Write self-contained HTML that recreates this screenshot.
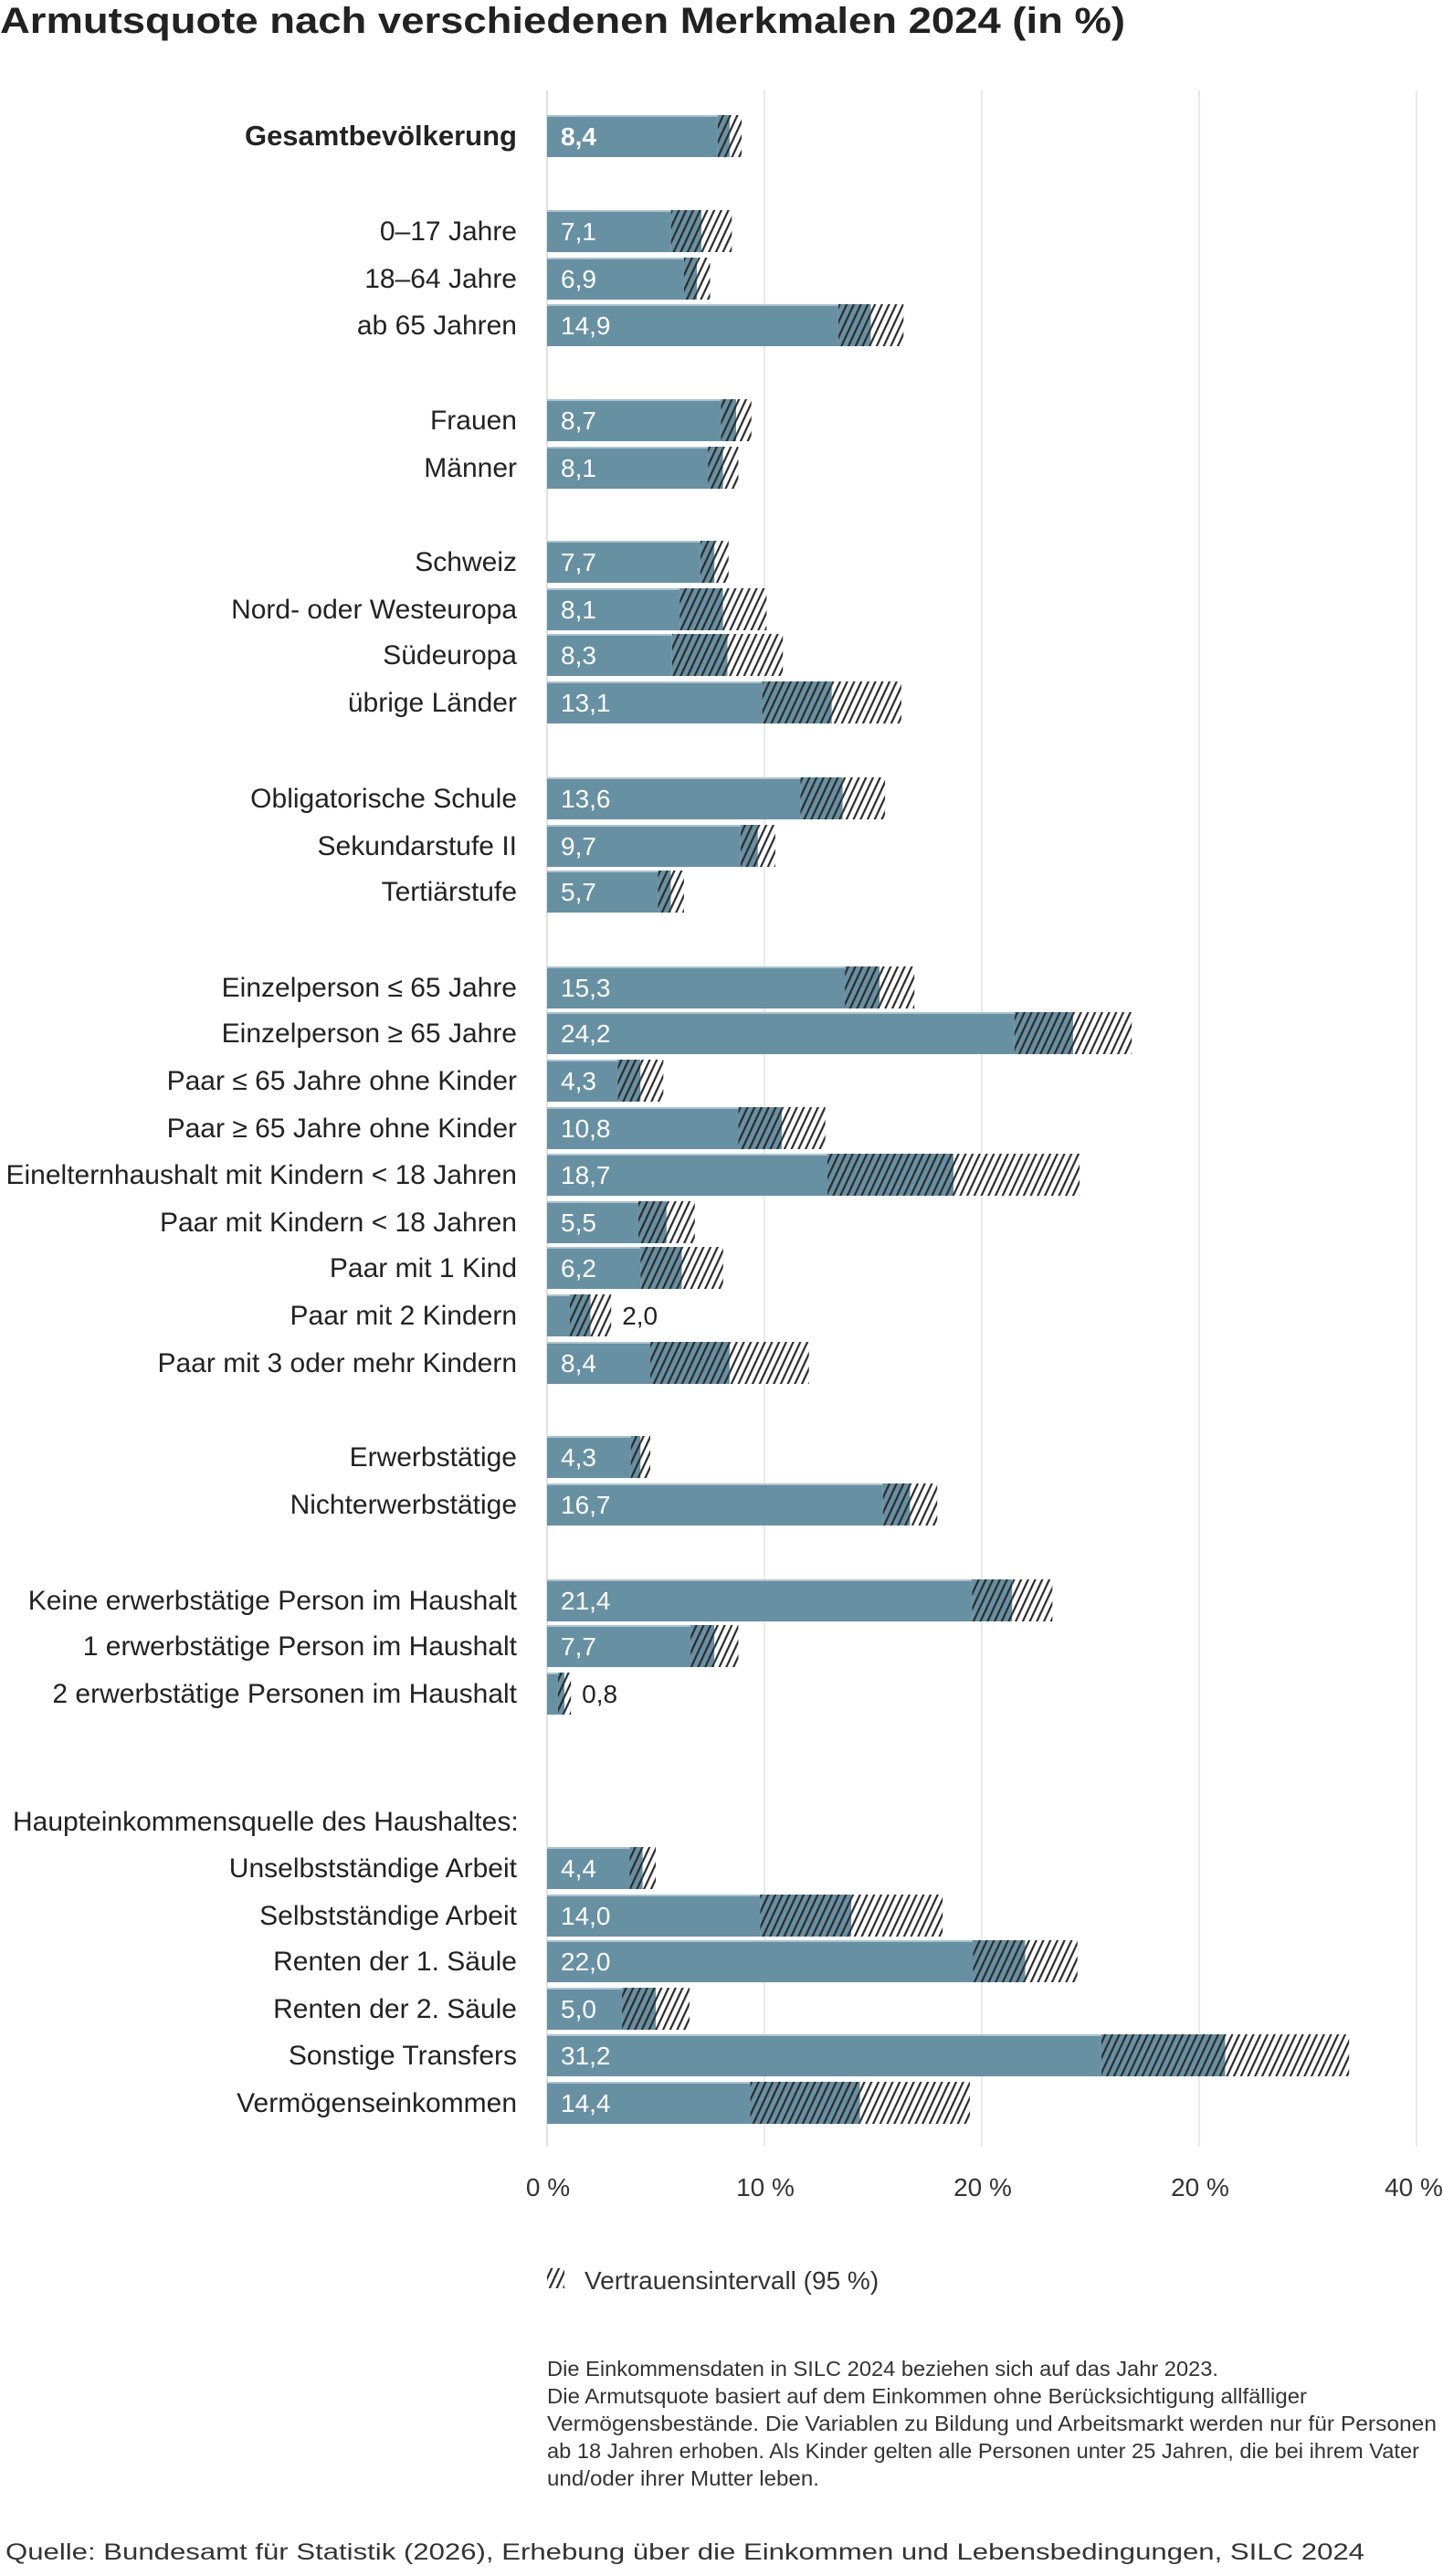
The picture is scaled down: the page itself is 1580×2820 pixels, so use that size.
<!DOCTYPE html>
<html><head><meta charset="utf-8"><style>
html,body{margin:0;padding:0;background:#fff;}
svg{display:block;font-family:"Liberation Sans",sans-serif;}
</style></head><body>
<svg id="c" width="1580" height="2820" xmlns="http://www.w3.org/2000/svg">
<defs>
<pattern id="hd" patternUnits="userSpaceOnUse" width="7" height="7" patternTransform="rotate(25)">
<rect width="7" height="7" fill="#6890a3"/><rect width="2.2" height="7" fill="#2b2b2b"/></pattern>
<pattern id="hl" patternUnits="userSpaceOnUse" width="7" height="7" patternTransform="rotate(25)">
<rect width="7" height="7" fill="#fff"/><rect width="2.2" height="7" fill="#2b2b2b"/></pattern>
</defs>
<text x="0" y="36" font-size="40" font-weight="bold" fill="#222" textLength="1232" lengthAdjust="spacingAndGlyphs">Armutsquote nach verschiedenen Merkmalen 2024 (in %)</text>
<g id="grid"></g>
<g id="bars"></g>
<g font-size="28" fill="#333" text-anchor="middle">
<text x="600" y="2404">0 %</text><text x="838" y="2404">10 %</text><text x="1076" y="2404">20 %</text><text x="1314" y="2404">20 %</text><text x="1548" y="2404">40 %</text>
</g>
<rect x="599" y="2483" width="19" height="22" fill="url(#hl)"/>
<text x="640" y="2506" font-size="28" fill="#333">Vertrauensintervall (95 %)</text>
<g font-size="23" fill="#333">
<text x="599" y="2601" textLength="735" lengthAdjust="spacingAndGlyphs">Die Einkommensdaten in SILC 2024 beziehen sich auf das Jahr 2023.</text>
<text x="599" y="2631" textLength="832" lengthAdjust="spacingAndGlyphs">Die Armutsquote basiert auf dem Einkommen ohne Berücksichtigung allfälliger</text>
<text x="599" y="2661" textLength="974" lengthAdjust="spacingAndGlyphs">Vermögensbestände. Die Variablen zu Bildung und Arbeitsmarkt werden nur für Personen</text>
<text x="599" y="2691" textLength="955" lengthAdjust="spacingAndGlyphs">ab 18 Jahren erhoben. Als Kinder gelten alle Personen unter 25 Jahren, die bei ihrem Vater</text>
<text x="599" y="2721" textLength="298" lengthAdjust="spacingAndGlyphs">und/oder ihrer Mutter leben.</text>
</g>
<text x="6" y="2802" font-size="25" fill="#333" textLength="1488" lengthAdjust="spacingAndGlyphs">Quelle: Bundesamt für Statistik (2026), Erhebung über die Einkommen und Lebensbedingungen, SILC 2024</text>
<text x="14" y="2004" font-size="30" fill="#222">Haupteinkommensquelle des Haushaltes:</text>
</svg>
<script>
var NS="http://www.w3.org/2000/svg";
function el(p,t,a,txt){var e=document.createElementNS(NS,t);for(var k in a)e.setAttribute(k,a[k]);if(txt!==undefined)e.textContent=txt;p.appendChild(e);return e;}
var X0=599,S=23.8;
var g=document.getElementById('grid');
for(var i=0;i<5;i++){var x=X0+i*238;el(g,'line',{x1:x,x2:x,y1:99,y2:2350,stroke:i==0?'#d8d8d8':'#e2e2e2','stroke-width':1.5});}
var d=[
["Gesamtbevölkerung",149,8.4,0.55,1],
["0–17 Jahre",253,7.1,1.4],["18–64 Jahre",305,6.9,0.6],["ab 65 Jahren",356,14.9,1.5],
["Frauen",460,8.7,0.7],["Männer",512,8.1,0.7],
["Schweiz",615,7.7,0.65],["Nord- oder Westeuropa",667,8.1,2.0],["Südeuropa",717,8.3,2.55],["übrige Länder",769,13.1,3.2],
["Obligatorische Schule",874,13.6,1.95],["Sekundarstufe II",926,9.7,0.8],["Tertiärstufe",976,5.7,0.6],
["Einzelperson ≤ 65 Jahre",1081,15.3,1.6],["Einzelperson ≥ 65 Jahre",1131,24.2,2.7],["Paar ≤ 65 Jahre ohne Kinder",1183,4.3,1.05],["Paar ≥ 65 Jahre ohne Kinder",1235,10.8,2.0],["Einelternhaushalt mit Kindern < 18 Jahren",1286,18.7,5.8],["Paar mit Kindern < 18 Jahren",1338,5.5,1.3],["Paar mit 1 Kind",1388,6.2,1.9],["Paar mit 2 Kindern",1440,2.0,0.95],["Paar mit 3 oder mehr Kindern",1492,8.4,3.65],
["Erwerbstätige",1595,4.3,0.45],["Nichterwerbstätige",1647,16.7,1.25],
["Keine erwerbstätige Person im Haushalt",1752,21.4,1.85],["1 erwerbstätige Person im Haushalt",1802,7.7,1.1],["2 erwerbstätige Personen im Haushalt",1854,0.8,0.3],
["Unselbstständige Arbeit",2045,4.4,0.6],["Selbstständige Arbeit",2097,14.0,4.2],["Renten der 1. Säule",2147,22.0,2.4],["Renten der 2. Säule",2199,5.0,1.55],["Sonstige Transfers",2250,31.2,5.7],["Vermögenseinkommen",2302,14.4,5.05]
];
var b=document.getElementById('bars');
d.forEach(function(r){
 var y=r[1]-23,h=46,lo=r[2]-r[3],hi=r[2]+r[3];
 el(b,'rect',{x:X0,y:y,width:lo*S,height:h,fill:'#6890a3'});
 el(b,'rect',{x:X0+lo*S,y:y,width:r[3]*S,height:h,fill:'url(#hd)'});
 el(b,'rect',{x:X0+r[2]*S,y:y,width:r[3]*S,height:h,fill:'url(#hl)'});
 el(b,'line',{x1:X0,x2:X0+lo*S,y1:y+1,y2:y+1,stroke:'#a9c3cf','stroke-width':2});
 el(b,'text',{x:566,y:r[1]+10,'font-size':r[4]?31:30,fill:'#222','text-anchor':'end','font-weight':r[4]?'bold':'normal'},r[0]);
 var v=r[2].toFixed(1).replace('.',',');
 if(r[2]<3) el(b,'text',{x:X0+hi*S+12,y:r[1]+10,'font-size':28,fill:'#222'},v);
 else el(b,'text',{x:614,y:r[1]+10,'font-size':28,fill:'#fff','font-weight':r[4]?'bold':'normal'},v);
});
</script>
</body></html>
